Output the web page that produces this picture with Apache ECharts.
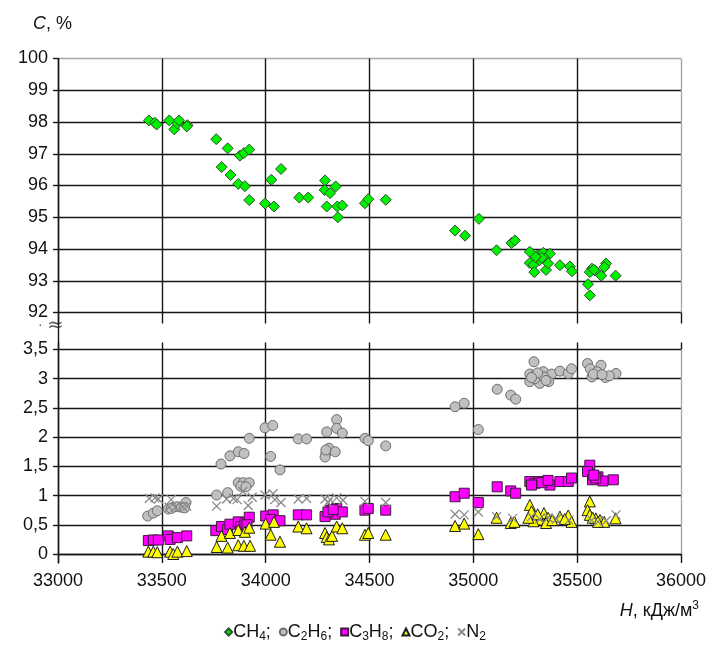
<!DOCTYPE html>
<html>
<head>
<meta charset="utf-8">
<script src="https://cdn.jsdelivr.net/npm/echarts@6/dist/echarts.min.js"></script>
<style>
  html, body { margin: 0; padding: 0; background: #fff; }
  #chart { width: 710px; height: 654px; }
</style>
</head>
<body>
<div id="chart"></div>
<script>
// Heat of combustion H (kJ/m3) vs. gas component content C (%)
const xTicks = [33000, 33500, 34000, 34500, 35000, 35500, 36000];
const topTicks = [92, 93, 94, 95, 96, 97, 98, 99, 100];
const bottomTicks = [0, 0.5, 1, 1.5, 2, 2.5, 3, 3.5];

// CH4
const ch4H = [33438, 33466, 33475, 33536, 33560, 33575, 33583, 33623, 33620,
  33762, 33817, 33876, 33895, 33921, 33788, 33831, 33868, 33900, 33921, 33997, 34040, 34027, 34074,
  34162, 34205, 34286, 34284, 34310, 34337, 34294, 34345, 34369, 34348, 34478, 34494, 34578,
  34912, 34960, 35027, 35112, 35184, 35200,
  35272, 35309, 35337, 35369, 35345, 35272, 35289, 35294, 35350, 35417, 35465, 35475, 35320, 35330, 35300, 35360,
  35571, 35561, 35587, 35616, 35639, 35631, 35685, 35552, 35561, 35580];
const ch4C = [98.05, 97.98, 97.92, 98.05, 97.77, 97.95, 98.05, 97.9, 97.86,
  97.46, 97.17, 96.94, 97.02, 97.13, 96.58, 96.33, 96.05, 95.98, 95.54, 95.43, 95.34, 96.18, 96.52,
  95.62, 95.62, 96.16, 95.86, 95.76, 95.97, 95.34, 95.34, 95.37, 95.0, 95.44, 95.57, 95.55,
  94.58, 94.42, 94.95, 93.96, 94.19, 94.27,
  93.91, 93.8, 93.88, 93.85, 93.7, 93.56, 93.5, 93.27, 93.34, 93.49, 93.45, 93.3, 93.65, 93.72, 93.75, 93.55,
  93.38, 93.27, 93.32, 93.16, 93.54, 93.43, 93.16, 92.89, 92.54, 93.35];

// C2H6
const c2h6H = [33432, 33459, 33478, 33531, 33555, 33575, 33595, 33616, 33610, 33545,
  33764, 33817, 33868, 33892, 33921, 33880, 33905,
  33785, 33828, 33868, 33896, 33921,
  33997, 34034, 34024, 34069, 34157, 34197,
  34294, 34342, 34342, 34369, 34305, 34290, 34286, 34335, 34290,
  34478, 34494, 34578,
  34912, 34956, 35024, 35115, 35180, 35204,
  35292, 35272, 35296, 35320, 35337, 35377, 35417, 35457, 35473, 35272, 35320, 35363, 35296, 35340, 35350, 35310, 35280,
  35550, 35563, 35615, 35571, 35596, 35636, 35687, 35578, 35655, 35620];
const c2h6C = [0.65, 0.70, 0.74, 0.77, 0.80, 0.81, 0.80, 0.88, 0.79, 0.78,
  1.01, 1.05, 1.22, 1.22, 1.22, 1.16, 1.15,
  1.54, 1.68, 1.75, 1.72, 1.98,
  2.16, 2.20, 1.67, 1.44, 1.97, 1.97,
  2.09, 2.30, 2.15, 2.07, 1.81, 1.72, 1.66, 1.75, 1.78,
  1.98, 1.94, 1.85,
  2.52, 2.58, 2.13, 2.82, 2.72, 2.65,
  3.29, 3.08, 3.06, 3.09, 3.12, 3.08, 3.13, 3.09, 3.17, 2.95, 2.92, 2.95, 3.0, 3.03, 2.97, 3.1, 3.02,
  3.26, 3.17, 3.23, 3.03, 3.12, 3.02, 3.09, 3.08, 3.05, 3.07];

// C3H8
const c3h8H = [33435, 33459, 33483, 33531, 33540, 33575, 33620,
  33760, 33787, 33817, 33828, 33868, 33880, 33900, 33921, 33910,
  34000, 34036, 34024, 34069, 34157, 34197,
  34286, 34310, 34335, 34342, 34369, 34300, 34325,
  34478, 34494, 34578,
  34912, 34956, 35024, 35115, 35180, 35204,
  35272, 35296, 35320, 35345, 35369, 35280, 35417, 35457, 35473, 35330, 35360,
  35561, 35550, 35574, 35600, 35624, 35674, 35590, 35580];
const c3h8C = [0.23, 0.24, 0.24, 0.31, 0.25, 0.28, 0.31,
  0.40, 0.47, 0.42, 0.51, 0.55, 0.47, 0.53, 0.63, 0.50,
  0.65, 0.67, 0.59, 0.57, 0.67, 0.67,
  0.64, 0.75, 0.68, 0.78, 0.72, 0.72, 0.76,
  0.75, 0.78, 0.75,
  0.98, 1.04, 0.88, 1.15, 1.08, 1.04,
  1.24, 1.21, 1.24, 1.24, 1.18, 1.18, 1.24, 1.24, 1.30, 1.22, 1.26,
  1.52, 1.41, 1.27, 1.32, 1.25, 1.27, 1.30, 1.35];

// CO2
const co2H = [33435, 33459, 33478, 33540, 33555, 33575, 33620,
  33764, 33817, 33787, 33828, 33868, 33900, 33921, 33868, 33895, 33925,
  34000, 34040, 34024, 34069, 34157, 34197,
  34286, 34294, 34305, 34320, 34342, 34369,
  34478, 34494, 34578,
  34912, 34956, 35024, 35112, 35180, 35198,
  35272, 35280, 35300, 35320, 35340, 35360, 35350, 35417, 35457, 35473, 35290, 35380, 35310, 35265, 35440,
  35561, 35550, 35561, 35590, 35610, 35630, 35685, 35575, 35600];
const co2C = [0.04, 0.04, 0.03, 0.04, 0.0, 0.04, 0.05,
  0.12, 0.11, 0.31, 0.36, 0.41, 0.38, 0.45, 0.15, 0.14, 0.14,
  0.52, 0.55, 0.33, 0.21, 0.47, 0.44,
  0.36, 0.29, 0.25, 0.31, 0.47, 0.44,
  0.33, 0.36, 0.33,
  0.48, 0.52, 0.34, 0.62, 0.53, 0.55,
  0.84, 0.73, 0.64, 0.59, 0.70, 0.62, 0.53, 0.64, 0.66, 0.55, 0.56, 0.58, 0.68, 0.62, 0.60,
  0.90, 0.75, 0.67, 0.61, 0.58, 0.55, 0.61, 0.62, 0.55];

// N2
const n2H = [33440, 33467, 33483, 33545, 33535, 33565, 33600, 33620,
  33764, 33812, 33863, 33890, 33916, 33845, 33935,
  33997, 34036, 34044, 34074, 34157, 34197,
  34286, 34310, 34342, 34372, 34300,
  34478, 34578,
  34912, 34956, 35024, 35112, 35190,
  35280, 35320, 35360, 35400, 35460,
  35570, 35600, 35640, 35687];
const n2C = [0.95, 0.96, 0.94, 0.93, 0.80, 0.80, 0.81, 0.82,
  0.82, 0.94, 0.93, 1.07, 0.83, 0.95, 0.97,
  1.01, 1.03, 0.93, 0.88, 0.94, 0.95,
  0.94, 0.93, 0.96, 0.92, 0.88,
  0.90, 0.88,
  0.68, 0.67, 0.72, 0.64, 0.61,
  0.64, 0.60, 0.62, 0.60, 0.58,
  0.58, 0.55, 0.57, 0.67];

const pairs = (xs, ys) => xs.map((x, i) => [x, ys[i]]);

const FONT = '"Liberation Sans", Arial, sans-serif';
const GRID_LINE = '#161616';
const EDGE_LINE = '#a8a8a8';
const LINE_W = 1.4;
const LEFT = 58, RIGHT = 29;

const labelStyle = { color: '#111', fontSize: 18, fontFamily: FONT };
// comma as decimal separator on the lower axis
const commaFmt = v => String(v).replace('.', ',');
const plainFmt = v => String(v);

const lineColors = (n, lastEdge) =>
  Array.from({ length: n }, (_, i) => (lastEdge && i === n - 1 ? EDGE_LINE : GRID_LINE));

const richText = {
  a: { fontSize: 18, fontFamily: FONT, color: '#111', lineHeight: 22, fontWeight: 'normal' },
  i: { fontSize: 18, fontFamily: FONT, color: '#111', lineHeight: 22, fontStyle: 'italic', fontWeight: 'normal' },
  sub: { fontSize: 12, fontFamily: FONT, color: '#111', lineHeight: 14, verticalAlign: 'bottom', fontWeight: 'normal' },
  sup: { fontSize: 12, fontFamily: FONT, color: '#111', lineHeight: 10, verticalAlign: 'top', fontWeight: 'normal' }
};

const crossPath = 'path://M0,0L10,10M10,0L0,10';

const legendNames = {
  'CH4': '{a|CH}{sub|4}{a|;}',
  'C2H6': '{a|C}{sub|2}{a|H}{sub|6}{a|;}',
  'C3H8': '{a|C}{sub|3}{a|H}{sub|8}{a|;}',
  'CO2': '{a|CO}{sub|2}{a|;}',
  'N2': '{a|N}{sub|2}'
};

const chart = echarts.init(document.getElementById('chart'), null, { renderer: 'canvas' });

chart.setOption({
  animation: false,
  backgroundColor: '#fff',
  title: [
    { text: '{i|C}{a|, %}', left: 28, top: 8, textStyle: { fontWeight: 'normal', rich: richText } },
    { text: '{i|H}{a|, кДж/м}{sup|3}', right: 6, top: 595, textStyle: { fontWeight: 'normal', rich: richText } }
  ],
  legend: {
    bottom: 6,
    left: 'center',
    itemWidth: 7,
    itemHeight: 7,
    itemGap: 8,
    formatter: name => legendNames[name],
    textStyle: { rich: richText, padding: [0, 0, 0, -4] },
    data: ['CH4', 'C2H6', 'C3H8', 'CO2', 'N2']
  },
  grid: [
    { left: LEFT, right: RIGHT, top: 58.5, height: 254 },
    { left: LEFT, right: RIGHT, top: 349.5, height: 204.5 },
    { left: LEFT, right: RIGHT, top: 58.5, height: 504.5 }
  ],
  xAxis: [
    {
      gridIndex: 0, type: 'value', min: xTicks[0], max: xTicks[xTicks.length - 1], interval: 500,
      axisLine: { show: false },
      axisTick: { show: true, length: 11, lineStyle: { color: GRID_LINE, width: LINE_W } },
      axisLabel: { show: false },
      splitLine: { show: true, lineStyle: { color: lineColors(xTicks.length, true), width: LINE_W } }
    },
    {
      gridIndex: 1, type: 'value', min: xTicks[0], max: xTicks[xTicks.length - 1], interval: 500,
      axisLine: { show: true, lineStyle: { color: GRID_LINE, width: LINE_W } },
      axisTick: { show: true, length: 9, lineStyle: { color: GRID_LINE, width: LINE_W } },
      axisLabel: Object.assign({ margin: 18, formatter: plainFmt }, labelStyle),
      splitLine: { show: true, lineStyle: { color: lineColors(xTicks.length, true), width: LINE_W } }
    },
    {
      gridIndex: 1, type: 'value', position: 'top', min: xTicks[0], max: xTicks[xTicks.length - 1], interval: 500,
      axisLine: { show: false },
      axisTick: { show: true, length: 7, lineStyle: { color: GRID_LINE, width: LINE_W } },
      axisLabel: { show: false },
      splitLine: { show: false }
    },
    {
      gridIndex: 2, type: 'value', min: xTicks[0], max: xTicks[xTicks.length - 1],
      show: false
    }
  ],
  yAxis: [
    {
      gridIndex: 0, type: 'value', min: topTicks[0], max: topTicks[topTicks.length - 1], interval: 1,
      axisLine: { show: false },
      axisTick: { show: true, length: 5, lineStyle: { color: GRID_LINE, width: LINE_W } },
      axisLabel: Object.assign({ margin: 10 }, labelStyle),
      splitLine: { show: true, lineStyle: { color: lineColors(topTicks.length, true), width: LINE_W } }
    },
    {
      gridIndex: 1, type: 'value', min: bottomTicks[0], max: bottomTicks[bottomTicks.length - 1], interval: 0.5,
      axisLine: { show: false },
      axisTick: { show: true, length: 5, lineStyle: { color: GRID_LINE, width: LINE_W } },
      axisLabel: Object.assign({ margin: 10, formatter: commaFmt }, labelStyle),
      splitLine: { show: true, lineStyle: { color: GRID_LINE, width: LINE_W } }
    },
    {
      // continuous left axis line through both panels
      gridIndex: 2, type: 'value', min: 0, max: 1,
      axisLine: { show: true, lineStyle: { color: GRID_LINE, width: LINE_W } },
      axisTick: { show: false },
      axisLabel: { show: false },
      splitLine: { show: false }
    }
  ],
  graphic: [
    {
      type: 'text', left: 47, top: 316,
      style: { text: '≈', fontSize: 20, fontFamily: '"DejaVu Serif", serif', fill: '#555' }
    },
    {
      type: 'text', left: 38, top: 318,
      style: { text: '·', fontSize: 14, fontFamily: FONT, fill: '#555' }
    }
  ],
  series: [
    {
      name: 'CH4', type: 'scatter', xAxisIndex: 0, yAxisIndex: 0,
      symbol: 'diamond', symbolSize: 11,
      itemStyle: { color: '#00f000', borderColor: '#2f4f2f', borderWidth: 1, opacity: 1 },
      data: pairs(ch4H, ch4C)
    },
    {
      name: 'C2H6', type: 'scatter', xAxisIndex: 1, yAxisIndex: 1,
      symbol: 'circle', symbolSize: 10,
      itemStyle: { color: '#c0c0c0', borderColor: '#6e6e6e', borderWidth: 1, opacity: 1 },
      data: pairs(c2h6H, c2h6C)
    },
    {
      name: 'C3H8', type: 'scatter', xAxisIndex: 1, yAxisIndex: 1,
      symbol: 'rect', symbolSize: 10,
      itemStyle: { color: '#ff00ff', borderColor: '#3a1a3a', borderWidth: 1, opacity: 1 },
      data: pairs(c3h8H, c3h8C)
    },
    {
      name: 'CO2', type: 'scatter', xAxisIndex: 1, yAxisIndex: 1,
      symbol: 'triangle', symbolSize: 11,
      itemStyle: { color: '#ffff00', borderColor: '#1e1e1e', borderWidth: 1, opacity: 1 },
      data: pairs(co2H, co2C)
    },
    {
      name: 'N2', type: 'scatter', xAxisIndex: 1, yAxisIndex: 1,
      symbol: crossPath, symbolSize: 9,
      itemStyle: { color: 'rgba(0,0,0,0)', borderColor: '#8a8a8a', borderWidth: 1.3, opacity: 1 },
      data: pairs(n2H, n2C)
    }
  ]
});
</script>
</body>
</html>
